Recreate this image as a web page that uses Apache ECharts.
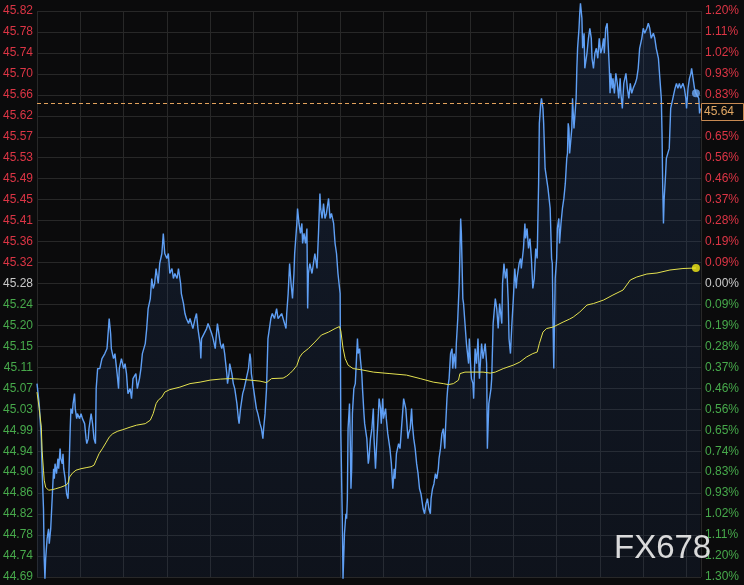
<!DOCTYPE html>
<html>
<head>
<meta charset="utf-8">
<script src="https://cdn.jsdelivr.net/npm/echarts@6/dist/echarts.min.js"></script>
<style>
html,body{margin:0;padding:0;background:#0b0b0c;}
#c{width:744px;height:585px;}
</style>
</head>
<body>
<div id="c"></div>
<script>
// ---------------- data ----------------
const prevClose = 45.28;
const priceStep = 0.041887;          // price per grid row (≈0.0925 %)
const rowsUp = 13, rowsDown = 14;
const lastPrice = 45.64;
const markTime = 913;                // minute of the highlighted last point
const sessionMinutes = 920;

const priceLabels = ['45.82','45.78','45.74','45.70','45.66','45.62','45.57','45.53','45.49','45.45','45.41','45.36','45.32','45.28',
  '45.24','45.20','45.15','45.11','45.07','45.03','44.99','44.94','44.90','44.86','44.82','44.78','44.74','44.69'];
const pctLabels = ['1.20%','1.11%','1.02%','0.93%','0.83%','0.74%','0.65%','0.56%','0.46%','0.37%','0.28%','0.19%','0.09%','0.00%',
  '0.09%','0.19%','0.28%','0.37%','0.46%','0.56%','0.65%','0.74%','0.83%','0.93%','1.02%','1.11%','1.20%','1.30%'];

const times = [0,3,6,7,9,10,11,12,14,16,17,19,21,22,23,24,25,27,29,30,32,33,35,36,37,39,41,43,44,45,46,47,49,50,51,52,53,55,56,59,61,63,66,68,69,71,72,74,75,77,79,81,82,84,87,90,94,97,100,102,103,106,108,111,113,114,117,120,122,124,126,129,131,133,137,139,142,144,146,150,152,154,157,159,161,163,165,167,168,170,173,175,177,180,182,184,187,189,191,194,196,199,200,203,205,207,210,212,214,216,219,221,223,226,227,228,235,237,242,244,247,248,250,252,254,256,258,260,263,264,266,267,270,272,274,277,279,280,282,285,287,290,293,295,296,297,300,302,304,306,309,311,313,314,316,318,320,324,326,329,332,334,339,343,345,346,348,350,352,354,356,357,360,361,363,365,367,368,370,372,374,375,376,378,381,383,385,388,390,392,393,395,397,399,401,404,406,408,411,413,415,417,420,421,423,424,426,428,429,430,431,433,434,435,436,437,439,441,442,444,445,447,448,450,451,453,454,457,459,460,462,464,466,467,469,471,473,474,476,477,479,480,483,484,486,489,491,493,495,496,498,501,503,505,508,511,512,514,515,517,519,520,522,524,526,528,530,532,533,535,537,539,541,543,545,546,548,550,552,554,556,557,559,561,563,565,566,568,569,571,573,575,576,578,580,581,583,585,587,588,590,591,593,595,598,599,601,602,604,605,607,609,611,613,616,618,621,623,624,626,629,630,632,635,637,639,641,644,645,647,649,651,653,654,656,658,660,662,664,665,668,670,671,674,676,677,679,681,683,685,687,689,691,693,695,696,698,699,701,702,704,706,708,711,713,714,715,716,717,718,720,721,723,724,726,728,730,732,734,735,736,737,738,741,742,744,745,747,748,749,751,752,753,755,756,758,759,762,764,766,768,769,771,773,775,777,779,781,783,785,786,788,790,791,793,794,795,797,798,800,802,804,806,808,809,811,813,816,818,820,822,824,826,829,831,833,835,838,840,842,845,847,849,851,854,856,858,861,863,865,866,867,868,869,871,872,874,876,877,878,881,884,886,888,890,892,895,897,899,900,902,904,906,907,909,911,913,917,918,919];

const prices = [45.08,45.04,44.97,44.91,44.83,44.73,44.69,44.73,44.77,44.79,44.76,44.79,44.85,44.88,44.91,44.89,44.92,44.90,44.93,44.91,44.95,44.93,44.92,44.94,44.91,44.89,44.86,44.85,44.89,44.94,44.99,45.03,45.02,45.04,45.05,45.06,45.03,45.01,45.02,45.01,45.02,45.01,45.00,44.97,44.96,44.97,44.99,45.01,45.02,45.00,44.97,44.96,45.07,45.11,45.11,45.13,45.14,45.15,45.21,45.18,45.15,45.13,45.14,45.10,45.07,45.11,45.13,45.11,45.12,45.10,45.06,45.07,45.05,45.09,45.10,45.07,45.09,45.11,45.14,45.16,45.19,45.23,45.25,45.29,45.27,45.28,45.31,45.29,45.28,45.32,45.34,45.38,45.34,45.33,45.34,45.30,45.31,45.29,45.30,45.29,45.31,45.28,45.26,45.24,45.22,45.21,45.20,45.21,45.20,45.19,45.21,45.22,45.19,45.16,45.13,45.17,45.19,45.20,45.18,45.17,45.15,45.17,45.20,45.18,45.16,45.15,45.16,45.14,45.10,45.08,45.10,45.12,45.10,45.08,45.07,45.04,45.01,45.00,45.03,45.06,45.07,45.09,45.11,45.14,45.13,45.10,45.07,45.05,45.03,45.02,45.00,44.99,44.97,44.99,45.02,45.07,45.17,45.21,45.22,45.21,45.23,45.21,45.22,45.20,45.19,45.22,45.26,45.32,45.28,45.25,45.30,45.34,45.40,45.43,45.40,45.38,45.40,45.36,45.38,45.36,45.39,45.23,45.30,45.32,45.30,45.32,45.34,45.31,45.38,45.46,45.43,45.41,45.44,45.41,45.42,45.45,45.41,45.42,45.40,45.36,45.34,45.30,45.26,44.98,44.81,44.69,44.78,44.82,44.81,44.85,44.99,45.04,44.97,44.87,44.91,45.02,45.07,45.08,45.11,45.17,45.14,45.15,45.13,45.10,45.07,45.02,45.00,44.97,44.92,44.93,44.97,44.99,45.03,44.97,44.91,44.97,45.02,45.05,45.03,45.00,45.05,45.01,45.03,45.01,44.98,44.95,44.92,44.87,44.91,44.89,44.94,44.96,44.95,44.99,45.05,45.03,45.01,44.97,44.98,44.99,45.03,45.00,44.97,44.95,44.92,44.90,44.87,44.86,44.85,44.83,44.82,44.84,44.85,44.83,44.82,44.85,44.87,44.88,44.90,44.89,44.91,44.93,44.95,44.98,44.99,44.95,44.99,45.05,45.07,45.09,45.14,45.15,45.11,45.14,45.11,45.16,45.21,45.28,45.41,45.38,45.25,45.24,45.20,45.16,45.12,45.17,45.11,45.09,45.08,45.05,45.15,45.12,45.17,45.09,45.16,45.13,45.16,45.12,44.95,45.04,45.07,45.09,45.20,45.25,45.23,45.19,45.24,45.20,45.28,45.32,45.29,45.31,45.24,45.17,45.14,45.20,45.25,45.31,45.27,45.29,45.32,45.33,45.31,45.35,45.40,45.37,45.39,45.35,45.37,45.33,45.27,45.29,45.35,45.33,45.48,45.60,45.64,45.65,45.63,45.60,45.51,45.49,45.47,45.43,45.33,45.32,45.20,45.11,45.20,45.29,45.33,45.39,45.41,45.36,45.40,45.43,45.45,45.48,45.53,45.54,45.60,45.59,45.54,45.59,45.65,45.59,45.61,45.65,45.71,45.75,45.79,45.82,45.84,45.81,45.75,45.78,45.71,45.74,45.77,45.79,45.77,45.73,45.71,45.74,45.75,45.73,45.77,45.74,45.75,45.77,45.74,45.79,45.80,45.77,45.71,45.66,45.70,45.67,45.69,45.66,45.70,45.68,45.65,45.69,45.66,45.63,45.68,45.70,45.67,45.65,45.68,45.66,45.67,45.68,45.69,45.71,45.75,45.77,45.79,45.78,45.79,45.80,45.79,45.77,45.78,45.77,45.75,45.73,45.69,45.65,45.58,45.47,45.40,45.45,45.50,45.53,45.54,45.55,45.59,45.63,45.65,45.67,45.68,45.67,45.68,45.67,45.68,45.67,45.65,45.63,45.67,45.69,45.70,45.71,45.69,45.67,45.66,45.65,45.62,45.63];

const avgTimes = [0,3,6,7,9,10,12,16,21,26,33,40,43,45,49,54,61,68,75,79,82,86,91,96,100,105,112,119,129,138,150,157,161,165,168,173,177,184,198,212,226,240,254,267,281,295,309,318,325,341,346,351,355,360,364,368,376,385,394,404,413,419,421,424,427,431,438,448,466,489,512,531,549,563,570,577,584,586,593,618,628,635,646,660,669,678,687,693,696,701,706,715,729,738,743,752,762,771,785,798,812,817,822,831,845,859,877,895,913];
const avgPrices = [45.063,45.031,44.993,44.947,44.907,44.887,44.873,44.867,44.868,44.870,44.873,44.877,44.881,44.893,44.901,44.907,44.910,44.912,44.914,44.917,44.927,44.940,44.951,44.963,44.973,44.980,44.985,44.988,44.993,44.997,45.000,45.007,45.020,45.040,45.047,45.053,45.063,45.068,45.073,45.080,45.083,45.087,45.089,45.090,45.089,45.087,45.085,45.082,45.090,45.091,45.095,45.101,45.107,45.116,45.133,45.141,45.150,45.163,45.177,45.183,45.190,45.194,45.185,45.151,45.130,45.117,45.110,45.108,45.103,45.100,45.097,45.090,45.083,45.080,45.078,45.080,45.087,45.100,45.103,45.103,45.101,45.103,45.110,45.117,45.123,45.133,45.140,45.143,45.160,45.183,45.190,45.193,45.203,45.209,45.213,45.223,45.237,45.240,45.247,45.257,45.267,45.277,45.287,45.293,45.299,45.301,45.307,45.310,45.311];

// ---------------- chart ----------------
const FONT = '"Liberation Sans", Arial, Helvetica, sans-serif';
const labelColor = v => { v = Number(v); return v > 0 ? '#dc3545' : (v < 0 ? '#47a94b' : '#c9c9c9'); };
const gridColor = '#282828';

const chart = echarts.init(document.getElementById('c'), null, {renderer: 'canvas'});

const priceData = times.map((t, i) => [t, prices[i]]);
const avgData = avgTimes.map((t, i) => [t, avgPrices[i]]);
const markPrice = prices[times.indexOf(markTime)];
const markAvg = avgPrices[avgTimes.indexOf(markTime)];

chart.setOption({
  backgroundColor: '#0b0b0c',
  animation: false,
  grid: {left: 37, right: 43, top: 11, bottom: 8, containLabel: false, outerBoundsMode: 'none'},
  xAxis: {
    type: 'value', min: 0, max: sessionMinutes, interval: 60,
    axisLine: {show: false}, axisTick: {show: false}, axisLabel: {show: false},
    splitLine: {show: true, lineStyle: {color: gridColor, width: 1}}
  },
  yAxis: [
    {
      type: 'value', position: 'left', min: -rowsDown, max: rowsUp, interval: 1,
      axisLine: {show: false}, axisTick: {show: false},
      splitLine: {show: true, lineStyle: {color: gridColor, width: 1}},
      axisLabel: {margin: 4, fontSize: 12, fontFamily: FONT, color: labelColor,
        formatter: v => priceLabels[rowsUp - Math.round(v)] || ''}
    },
    {
      type: 'value', position: 'right', min: -rowsDown, max: rowsUp, interval: 1,
      axisLine: {show: false}, axisTick: {show: false}, splitLine: {show: false},
      axisLabel: {margin: 4, fontSize: 12, fontFamily: FONT, color: labelColor,
        formatter: v => pctLabels[rowsUp - Math.round(v)] || ''}
    },
    {
      type: 'value', position: 'left', show: false,
      min: prevClose - rowsDown * priceStep, max: prevClose + rowsUp * priceStep,
      splitLine: {show: false}
    }
  ],
  series: [
    {
      type: 'line', name: 'price', xAxisIndex: 0, yAxisIndex: 2,
      data: priceData, symbol: 'none', showSymbol: false, clip: false, z: 3,
      lineStyle: {color: '#5f9ff4', width: 1.4},
      areaStyle: {origin: 'start', color: new echarts.graphic.LinearGradient(0, 0, 0, 1, [
        {offset: 0, color: 'rgba(42,78,138,0.36)'},
        {offset: 1, color: 'rgba(30,55,100,0.25)'}
      ])},
      markLine: {
        silent: true, symbol: 'none', animation: false,
        label: {show: false},
        lineStyle: {color: '#e3a25c', type: [4, 3], width: 1, opacity: 1},
        data: [{yAxis: lastPrice}]
      }
    },
    {
      type: 'line', name: 'average', xAxisIndex: 0, yAxisIndex: 2,
      data: avgData, symbol: 'none', showSymbol: false, clip: false, z: 4,
      lineStyle: {color: '#e4e14f', width: 1}
    },
    {
      type: 'scatter', xAxisIndex: 0, yAxisIndex: 2, symbolSize: 8, z: 5, clip: false,
      data: [
        {value: [markTime, markPrice], itemStyle: {color: '#6ba8f6'}},
        {value: [markTime, markAvg], itemStyle: {color: '#f6ee17'}}
      ]
    }
  ]
});

const yLine = chart.convertToPixel({yAxisIndex: 2}, lastPrice);
const xRight = chart.convertToPixel({xAxisIndex: 0}, sessionMinutes);
chart.setOption({
  graphic: [
    {
      type: 'rect', z: 100,
      shape: {x: Math.round(xRight) + 0.5, y: Math.round(yLine) + 0.5, width: 42, height: 17},
      style: {fill: '#0b0b0c', stroke: '#c88a52', lineWidth: 1}
    },
    {
      type: 'text', z: 101, x: Math.round(xRight) + 3, y: Math.round(yLine) + 9,
      style: {text: lastPrice.toFixed(2), fill: '#e3a864', font: '12px ' + FONT, verticalAlign: 'middle', align: 'left'}
    },
    {
      type: 'text', z: 200, x: 614, y: 549,
      style: {text: 'FX678', fill: 'rgba(236,236,236,0.92)', font: '33px ' + FONT, verticalAlign: 'middle', align: 'left'}
    }
  ]
});
</script>
</body>
</html>
